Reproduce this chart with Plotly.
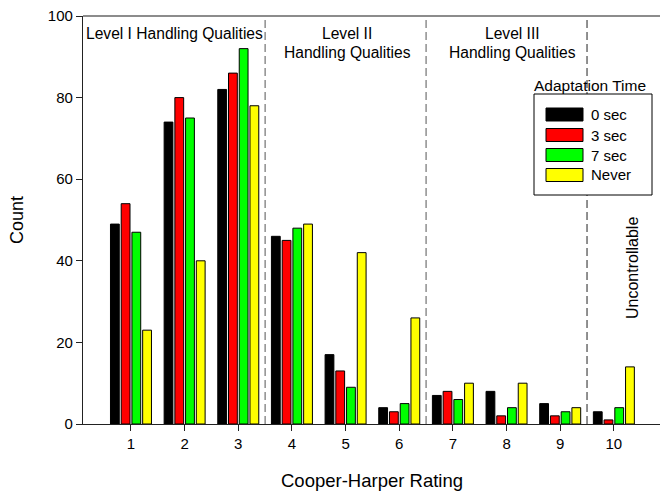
import plotly.graph_objects as go

categories = [1, 2, 3, 4, 5, 6, 7, 8, 9, 10]
series_names = ["0 sec", "3 sec", "7 sec", "Never"]
vals_0sec = [49, 74, 82, 46, 17, 4, 7, 8, 5, 3]
vals_3sec = [54, 80, 86, 45, 13, 3, 8, 2, 2, 1]
vals_7sec = [47, 75, 92, 48, 9, 5, 6, 4, 3, 4]
vals_never = [23, 40, 78, 49, 42, 26, 10, 10, 4, 14]
colors = ["#000000", "#ff0000", "#00ff00", "#ffff00"]
y_ticks = [0, 20, 40, 60, 80, 100]
region_bounds = [3.5, 6.5, 9.5]

FONT = "Liberation Sans, Arial, sans-serif"

fig = go.Figure()
for name, vals, col in zip(series_names, [vals_0sec, vals_3sec, vals_7sec, vals_never], colors):
    fig.add_trace(go.Bar(x=categories, y=vals, name=name, marker=dict(color=col, line=dict(color="#000000", width=1)),
                         showlegend=False))

W, H = 660, 494
L, R, T, B = 83, 0, 16, 70
PW, PH = W - L - R, H - T - B

def px(x):
    return (x - L) / PW

def py(y):
    return (H - B - y) / PH

shapes = []
# region separators
for i, xb in enumerate(region_bounds):
    shapes.append(dict(type="line", xref="x", yref="y", x0=xb, x1=xb, y0=0, y1=100,
                       line=dict(color="#555555" if i < 2 else "#222222", width=1, dash="8px,4px"), layer="below"))
# top frame line
shapes.append(dict(type="line", xref="paper", yref="paper", x0=0, x1=1, y0=1, y1=1,
                   line=dict(color="#666666", width=1.5)))
# legend box
shapes.append(dict(type="rect", xref="paper", yref="paper", x0=px(534), x1=px(652), y0=py(195), y1=py(94),
                   line=dict(color="#000000", width=1), fillcolor="#ffffff", layer="above"))
row_centers = [114.5, 135, 155, 175]
annotations = []
for name, col, rc in zip(series_names, colors, row_centers):
    shapes.append(dict(type="rect", xref="paper", yref="paper", x0=px(546), x1=px(583),
                       y0=py(rc + 6.5), y1=py(rc - 6.5), line=dict(color="#000000", width=1),
                       fillcolor=col, layer="above"))
    annotations.append(dict(xref="paper", yref="paper", x=px(589), y=py(rc), text=name, showarrow=False,
                            xanchor="left", yanchor="middle", font=dict(size=15, color="#000000", family=FONT)))
annotations.append(dict(xref="paper", yref="paper", x=px(532), y=py(86), text="Adaptation Time", showarrow=False,
                        xanchor="left", yanchor="middle", font=dict(size=15.5, color="#000000", family=FONT)))

tf = dict(size=15.6, color="#000000", family=FONT)
annotations += [
    dict(xref="paper", yref="paper", x=px(84), y=py(34), text="Level I Handling Qualities", showarrow=False,
         xanchor="left", yanchor="middle", font=tf),
    dict(xref="x", yref="paper", x=5.03, y=py(34), text="Level II", showarrow=False, yanchor="middle", font=tf),
    dict(xref="x", yref="paper", x=5.03, y=py(52), text="Handling Qualities", showarrow=False, yanchor="middle", font=tf),
    dict(xref="x", yref="paper", x=8.11, y=py(34), text="Level III", showarrow=False, yanchor="middle", font=tf),
    dict(xref="x", yref="paper", x=8.11, y=py(52), text="Handling Qualities", showarrow=False, yanchor="middle", font=tf),
    dict(xref="paper", yref="paper", x=px(632), y=py(268), text="Uncontrollable", showarrow=False, textangle=-90,
         xanchor="center", yanchor="middle", font=dict(size=16, color="#000000", family=FONT)),
    dict(xref="paper", yref="paper", x=0.5, y=py(480), text="Cooper-Harper Rating", showarrow=False,
         xanchor="center", yanchor="middle", font=dict(size=18.5, color="#000000", family=FONT)),
    dict(xref="paper", yref="paper", x=px(17), y=0.5, text="Count", showarrow=False, textangle=-90,
         xanchor="center", yanchor="middle", font=dict(size=18, color="#000000", family=FONT)),
]

fig.update_layout(
    width=W, height=H,
    margin=dict(l=L, r=R, t=T, b=B, pad=0),
    paper_bgcolor="#ffffff", plot_bgcolor="#ffffff",
    barmode="group", bargap=0.2, bargroupgap=0.18,
    font=dict(family=FONT, size=15, color="#000000"),
    shapes=shapes, annotations=annotations,
    xaxis=dict(range=[0.106, 10.86], tickvals=categories, ticktext=[str(c) for c in categories],
               showgrid=False, zeroline=False, showline=True, linecolor="#222222", linewidth=1.2,
               ticks="outside", ticklen=6, tickcolor="#222222", tickfont=dict(size=15, family=FONT, color="#000000")),
    yaxis=dict(range=[0, 100], tickvals=y_ticks, showgrid=False, zeroline=False, showline=True,
               linecolor="#222222", linewidth=1.2, ticks="outside", ticklen=6, tickcolor="#222222",
               tickfont=dict(size=15, family=FONT, color="#000000")),
    showlegend=False,
)

fig.write_html("out.html")
